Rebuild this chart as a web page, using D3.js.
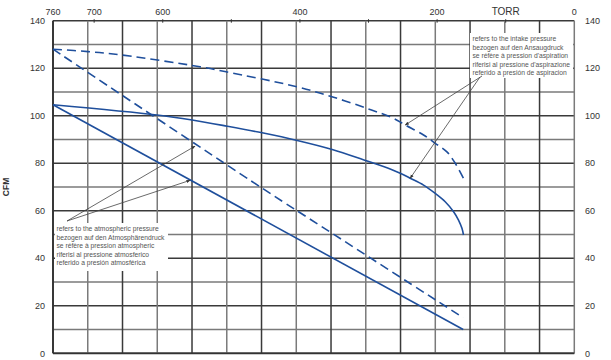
<!DOCTYPE html>
<html><head><meta charset="utf-8">
<script src="https://cdn.jsdelivr.net/npm/d3@7"></script>
<style>
html,body{margin:0;padding:0;background:#fff;}
svg text{font-family:"Liberation Sans Narrow","Liberation Sans",Arial,sans-serif;}
</style></head>
<body><svg id="c" width="611" height="360"></svg>
<script>
// ---- data ----
const torrLabels = [760, 700, 600, 400, 200, 0];
const torrTickMarks = [700, 600, 500, 400, 300, 200, 100];
const cfmLabels = [0, 20, 40, 60, 80, 100, 120, 140];
const cfmGrid = d3.range(0, 141, 10);
const colGrid = d3.range(0, 16);

// atmospheric (straight lines)
const atmSolidTorr = [760, 162];
const atmSolidCfm  = [104.6, 10];
const atmDashTorr  = [760, 455, 353, 162];
const atmDashCfm   = [128, 69.5, 50.5, 15];
// intake pressure curves
const intSolidTorr = [760, 608.3, 557.2, 506.2, 455.1, 404.0, 353.0, 302.0, 268.4, 253.8, 239.2, 219.8, 202.7, 188.2, 176.0, 168.8, 163.8, 161.5];
const intSolidCfm  = [104.6, 100.3, 98.2, 95.6, 92.8, 89.6, 85.8, 80.9, 77.6, 75.8, 73.7, 70.8, 67.3, 63.8, 59.6, 56.1, 52.6, 49.8];
const intDashTorr  = [760, 708.9, 658.3, 545.6, 507.6, 404.5, 353.4, 302.4, 263.6, 246.5, 219.8, 202.7, 185.7, 173.6, 161.5];
const intDashCfm   = [128, 127, 125.5, 120.6, 118.5, 112.2, 108, 103.1, 98.9, 96.1, 91.9, 88.4, 84.8, 80, 73.6];

const noteIntake = ["refers to the intake pressure", "bezogen auf den Ansaugdruck", "se réfère à pression d'aspiration", "riferisi al pressione d'aspirazione", "referido a presión de aspiracion"];
const noteAtm = ["refers to the atmospheric pressure", "bezogen auf den Atmosphärendruck", "se réfère à pression atmospheric", "riferisi al pressione atmosferico", "referido a presión atmosférica"];

// ---- chart ----
const svg = d3.select("#c");
const L = 53, R = 574.3, T = 20.7, B = 353.3;
const x = d3.scaleLinear().domain([760, 0]).range([L, R]);
const y = d3.scaleLinear().domain([0, 140]).range([B, T]);
const gx = d3.scaleLinear().domain([0, 15]).range([L, R]);
const blue = "#1f4f9c";

// grid
svg.append("g").selectAll("line").data(cfmGrid).join("line")
  .attr("x1", L).attr("x2", R).attr("y1", d => y(d)).attr("y2", d => y(d))
  .attr("stroke", (d,i) => i % 2 ? "#7a7a7a" : "#3a3a3a").attr("stroke-width", 1.5);
svg.append("g").selectAll("line").data(colGrid).join("line")
  .attr("x1", d => gx(d)).attr("x2", d => gx(d)).attr("y1", T).attr("y2", B)
  .attr("stroke", (d,i) => i % 2 ? "#7a7a7a" : "#3a3a3a").attr("stroke-width", 1.5);
svg.append("line").attr("x1", L).attr("x2", R).attr("y1", B).attr("y2", B).attr("stroke", "#333").attr("stroke-width", 1.8);
svg.append("line").attr("x1", L).attr("x2", L).attr("y1", T).attr("y2", B).attr("stroke", "#333").attr("stroke-width", 1.8);

// top ticks
svg.append("g").selectAll("line").data(torrTickMarks).join("line")
  .attr("x1", d => x(d)).attr("x2", d => x(d)).attr("y1", T - 1.5).attr("y2", T + 2)
  .attr("stroke", "#333").attr("stroke-width", 1);

// labels
const lab = svg.append("g").attr("fill", "#333").attr("font-size", 9);
lab.selectAll(".tl").data(torrLabels).join("text")
  .attr("x", d => x(d)).attr("y", 14.5).attr("text-anchor", "middle").text(d => d);
lab.append("text").attr("x", x(100)).attr("y", 14.5).attr("text-anchor", "middle").attr("font-size", 10).text("TORR");
lab.selectAll(".yl").data(cfmLabels).join("text")
  .attr("x", 45).attr("y", d => y(d) + 3.2).attr("text-anchor", "end").text(d => d);
lab.selectAll(".yr").data(cfmLabels).join("text")
  .attr("x", 585).attr("y", d => y(d) + 3.2).attr("text-anchor", "start").text(d => d);
lab.append("text").attr("transform", `translate(9,${y(70)}) rotate(-90)`).attr("text-anchor", "middle")
  .attr("font-weight", "bold").attr("font-size", 8.5).text("CFM");

// curves
const mk = (ts, cs) => ts.map((t, i) => [t, cs[i]]);
const curves = [
  {d: mk(atmSolidTorr, atmSolidCfm), dash: null},
  {d: mk(atmDashTorr, atmDashCfm), dash: "9,5"},
  {d: mk(intSolidTorr, intSolidCfm), dash: null},
  {d: mk(intDashTorr, intDashCfm), dash: "9,5"}
];
curves.forEach(cv => {
  const ln = d3.line().x(d => x(d[0])).y(d => y(d[1])).curve(d3.curveCatmullRom.alpha(0.5));
  svg.append("path").attr("d", ln(cv.d)).attr("fill", "none").attr("stroke", blue)
    .attr("stroke-width", 1.6).attr("stroke-dasharray", cv.dash);
});

// annotation boxes
function note(lines, bx, by, bw, bh, tx, ty, firstWidth) {
  svg.append("rect").attr("x", bx).attr("y", by).attr("width", bw).attr("height", bh).attr("fill", "#fff");
  const g = svg.append("g").attr("fill", "#555").attr("font-size", 8);
  const ts = g.selectAll("text").data(lines).join("text")
    .attr("x", tx).attr("y", (d, i) => ty + i * 8.6).text(d => d);
  const w = ts.node().getComputedTextLength();
  g.attr("font-size", 8 * firstWidth / w);
}
note(noteIntake, 470, 33, 103, 45, 472.5, 41, 84);
note(noteAtm, 55, 223, 113, 48, 56.5, 231, 102.5);

// leader lines with arrowheads
svg.append("defs").append("marker").attr("id", "ah").attr("viewBox", "0 0 10 10")
  .attr("refX", 9).attr("refY", 5).attr("markerWidth", 5).attr("markerHeight", 5).attr("orient", "auto")
  .append("path").attr("d", "M0,1L10,5L0,9z").attr("fill", "#333");
const leader = (x1, y1, t, c) => svg.append("line").attr("x1", x1).attr("y1", y1)
  .attr("x2", x(t)).attr("y2", y(c)).attr("stroke", "#444").attr("stroke-width", 0.8).attr("marker-end", "url(#ah)");
leader(482, 76, 246.5, 96.1);
leader(480, 77, 239.2, 73.7);
leader(67, 221, 552.9, 87.2);
leader(67, 221, 560.2, 72.8);
</script></body></html>
